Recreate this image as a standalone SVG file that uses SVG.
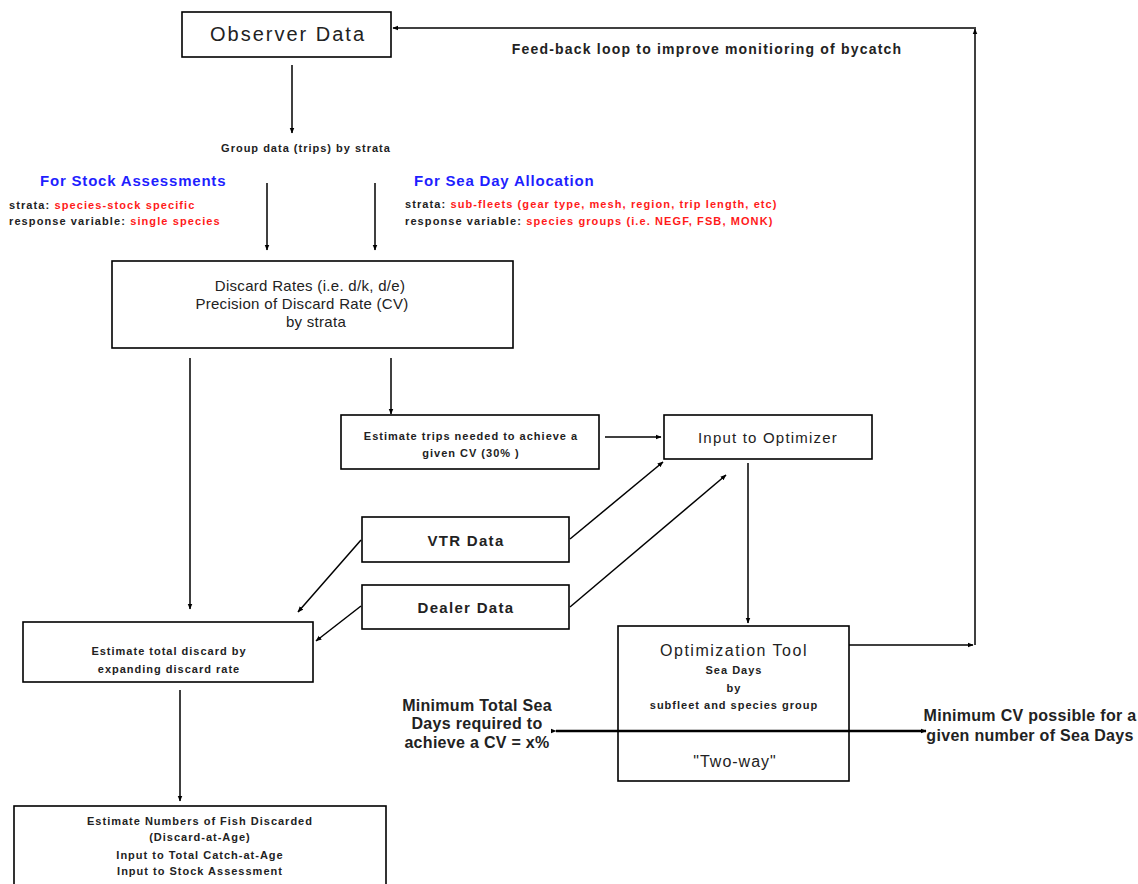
<svg xmlns="http://www.w3.org/2000/svg" width="1138" height="884" viewBox="0 0 1138 884" xml:space="preserve">
<defs>
<style>
.box{fill:#fff;stroke:#000;stroke-width:1.6}
.ln{fill:none;stroke:#000;stroke-width:1.5}
.t{font-family:"Liberation Sans",Arial,sans-serif;fill:#222;text-anchor:middle}
.s{font-size:11px;font-weight:bold;letter-spacing:1px}
.m{font-size:15px;letter-spacing:0.3px}
.b{font-size:15px;font-weight:bold;letter-spacing:1.3px}
.big{font-size:16px;font-weight:bold;letter-spacing:0.3px}
.blue{font-family:"Liberation Sans",Arial,sans-serif;font-size:15px;font-weight:bold;fill:#1f1fff;letter-spacing:0.8px}
.lab{font-family:"Liberation Sans",Arial,sans-serif;font-size:11px;font-weight:bold;fill:#222;letter-spacing:1.1px}
.red{fill:#ff1a1a}
</style>
<marker id="ah" viewBox="0 0 10 10" refX="9" refY="5" markerWidth="6" markerHeight="6" orient="auto" markerUnits="userSpaceOnUse">
<path d="M0,1 L10,5 L0,9 z" fill="#000"/>
</marker>
</defs>
<rect width="1138" height="884" fill="#fff"/>

<g id="observer">
<rect class="box" x="182" y="12" width="209" height="45"/>
<text class="t" x="288" y="41" font-size="20" letter-spacing="2">Observer Data</text>
</g>

<g id="group-label">
<text class="t s" x="306" y="152">Group data (trips)  by strata</text>
</g>

<g id="stock-assess">
<text class="blue" x="40" y="186">For Stock Assessments</text>
<text class="lab" x="9" y="209">strata:  <tspan class="red">species-stock specific</tspan></text>
<text class="lab" x="9" y="225">response variable: <tspan class="red">single species</tspan></text>
</g>

<g id="sea-day">
<text class="blue" x="414" y="186" letter-spacing="0.7">For Sea Day Allocation</text>
<text class="lab" x="405" y="208">strata: <tspan class="red">sub-fleets  (gear type, mesh, region, trip length, etc)</tspan></text>
<text class="lab" x="405" y="225">response variable: <tspan class="red">species groups (i.e. NEGF, FSB, MONK)</tspan></text>
</g>

<g id="discard-rates">
<rect class="box" x="112" y="261" width="401" height="87"/>
<text class="t m" x="310" y="291">Discard Rates  (i.e. d/k, d/e)</text>
<text class="t m" x="302" y="309">Precision of Discard Rate (CV)</text>
<text class="t m" x="316" y="327">by strata</text>
</g>

<g id="estimate-trips">
<rect class="box" x="341" y="415" width="258" height="54"/>
<text class="t s" x="471" y="440">Estimate trips needed to achieve a</text>
<text class="t s" x="471" y="457">given CV (30% )</text>
</g>

<g id="input-optimizer">
<rect class="box" x="664" y="415" width="208" height="44"/>
<text class="t" x="768" y="443" font-size="15" letter-spacing="1.2">Input to Optimizer</text>
</g>

<g id="vtr">
<rect class="box" x="362" y="517" width="207" height="45"/>
<text class="t b" x="466" y="546">VTR Data</text>
</g>

<g id="dealer">
<rect class="box" x="362" y="585" width="207" height="44"/>
<text class="t b" x="466" y="613">Dealer Data</text>
</g>

<g id="estimate-total">
<rect class="box" x="23" y="622" width="290" height="60"/>
<text class="t s" x="169" y="655">Estimate total discard by</text>
<text class="t s" x="169" y="673">expanding discard rate</text>
</g>

<g id="estimate-numbers">
<rect class="box" x="14" y="806" width="372" height="84"/>
<text class="t s" x="200" y="825">Estimate Numbers of Fish Discarded</text>
<text class="t s" x="200" y="841">(Discard-at-Age)</text>
<text class="t s" x="200" y="859">Input to Total Catch-at-Age</text>
<text class="t s" x="200" y="875">Input to Stock Assessment</text>
</g>

<g id="optimization-tool">
<rect class="box" x="618" y="626" width="231" height="155"/>
<text class="t" x="734" y="656" font-size="16" letter-spacing="1.5">Optimization Tool</text>
<text class="t s" x="734" y="674">Sea Days</text>
<text class="t s" x="734" y="692">by</text>
<text class="t s" x="734" y="709">subfleet and species group</text>
<text class="t" x="735" y="767" font-size="16" letter-spacing="1">"Two-way"</text>
</g>

<g id="min-total">
<text class="t big" x="477" y="711">Minimum Total Sea</text>
<text class="t big" x="477" y="729">Days required to</text>
<text class="t big" x="477" y="748">achieve a CV = x%</text>
</g>

<g id="min-cv">
<text class="t big" x="1030" y="721">Minimum CV possible for a</text>
<text class="t big" x="1030" y="741">given number of Sea Days</text>
</g>

<g id="feedback-label">
<text class="t" x="707" y="54" font-size="14" font-weight="bold" letter-spacing="1.2">Feed-back loop to improve monitioring of bycatch</text>
</g>

<g id="connectors">
<line class="ln" x1="292" y1="65" x2="292" y2="133" marker-end="url(#ah)"/>
<line class="ln" x1="267" y1="183" x2="267" y2="250" marker-end="url(#ah)"/>
<line class="ln" x1="375" y1="183" x2="375" y2="250" marker-end="url(#ah)"/>
<line class="ln" x1="190" y1="358" x2="190" y2="609" marker-end="url(#ah)"/>
<line class="ln" x1="391" y1="358" x2="391" y2="414" marker-end="url(#ah)"/>
<line class="ln" x1="605" y1="437" x2="661" y2="437" marker-end="url(#ah)"/>
<line class="ln" x1="570" y1="539" x2="663" y2="462" marker-end="url(#ah)"/>
<line class="ln" x1="570" y1="607" x2="726" y2="475" marker-end="url(#ah)"/>
<line class="ln" x1="361" y1="540" x2="298" y2="612" marker-end="url(#ah)"/>
<line class="ln" x1="361" y1="606" x2="316" y2="641" marker-end="url(#ah)"/>
<line class="ln" x1="180" y1="690" x2="180" y2="801" marker-end="url(#ah)"/>
<line class="ln" x1="748" y1="463" x2="748" y2="623" marker-end="url(#ah)"/>
<line class="ln" x1="849" y1="645" x2="973" y2="645" marker-end="url(#ah)"/>
<line class="ln" x1="975" y1="645" x2="975" y2="29" marker-end="url(#ah)"/>
<line class="ln" x1="976" y1="28" x2="393" y2="28" marker-end="url(#ah)"/>
<line x1="556" y1="731" x2="926" y2="731" stroke="#000" stroke-width="2.5" marker-start="url(#ah)" marker-end="url(#ah)"/>
</g>
</svg>
